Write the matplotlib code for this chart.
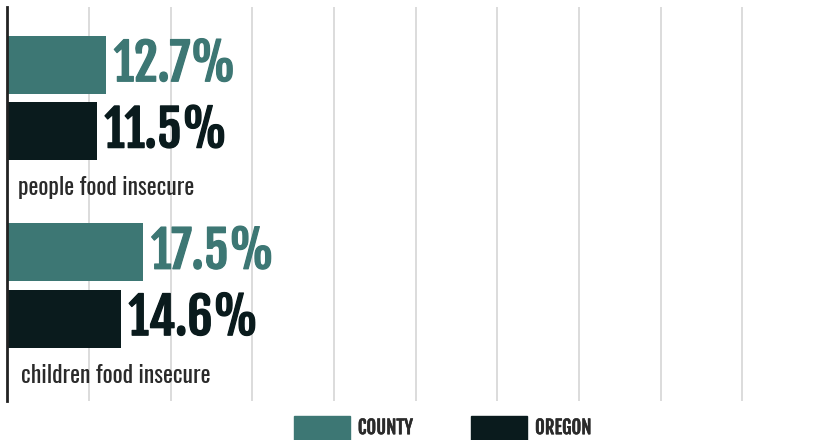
import numpy as np
import matplotlib.pyplot as plt
import matplotlib.patheffects as pe
from matplotlib.patches import Patch

# данные
categories = ["people food insecure", "children food insecure"]
county = [12.7, 17.5]
oregon = [11.5, 14.6]
series_names = ["COUNTY", "OREGON"]

c_county = "#3d7774"
c_oregon = "#0a1b1d"
c_text = "#2a2a2a"
bold_font = ["Fjalla One", "DejaVu Sans"]
label_font = ["Oswald", "DejaVu Sans"]

fig = plt.figure(figsize=(8.24, 4.40), dpi=100)
ax = fig.add_axes([7.3 / 824, 39 / 440, 1 - 7.3 / 824, 394 / 440])

y = np.arange(len(categories))
h = 0.31
off = 0.177

ax.barh(y - off, county, height=h, color=c_county, zorder=3)
ax.barh(y + off, oregon, height=h, color=c_oregon, zorder=3)

for i in range(len(categories)):
    for val, dy, col in [(county[i], -off, c_county), (oregon[i], off, c_oregon)]:
        ax.annotate(f"{val}%", (val, y[i] + dy), xytext=(5.5, 0),
                    textcoords="offset points", va="center", ha="left",
                    fontsize=36, color=col, family=bold_font,
                    path_effects=[pe.withStroke(linewidth=0.9, foreground=col)])
    ax.annotate(categories[i], (0, y[i] + 0.48), xytext=(8 + 2 * i, 0),
                textcoords="offset points", va="center", ha="left",
                fontsize=17, color=c_text, family=label_font)

ax.set_xlim(0, 105)
ax.set_ylim(1.616, -0.485)
ax.set_xticks(np.linspace(0, 105, 11)[1:-1])
ax.set_yticks([])
ax.tick_params(axis="x", length=0, labelbottom=False)
ax.grid(axis="x", color="#d6d6d6", linewidth=1.2, zorder=0)
for s in ["top", "right", "bottom"]:
    ax.spines[s].set_visible(False)
ax.spines["left"].set_color("#222222")
ax.spines["left"].set_linewidth(2)
ax.spines["left"].set_zorder(4)

handles = [Patch(color=c_county), Patch(color=c_oregon)]
fig.legend(handles, series_names, loc="upper center", bbox_to_anchor=(0.537, 24 / 440),
           ncol=2, frameon=False, handlelength=3.0, handleheight=1.6,
           handletextpad=0.42, columnspacing=3.1, borderpad=0, borderaxespad=0,
           prop={"family": bold_font, "size": 13.5})
for t in fig.legends[0].get_texts():
    t.set_color(c_text)
    t.set_path_effects([pe.withStroke(linewidth=0.4, foreground=c_text)])

fig.savefig("out.png", dpi=100)
